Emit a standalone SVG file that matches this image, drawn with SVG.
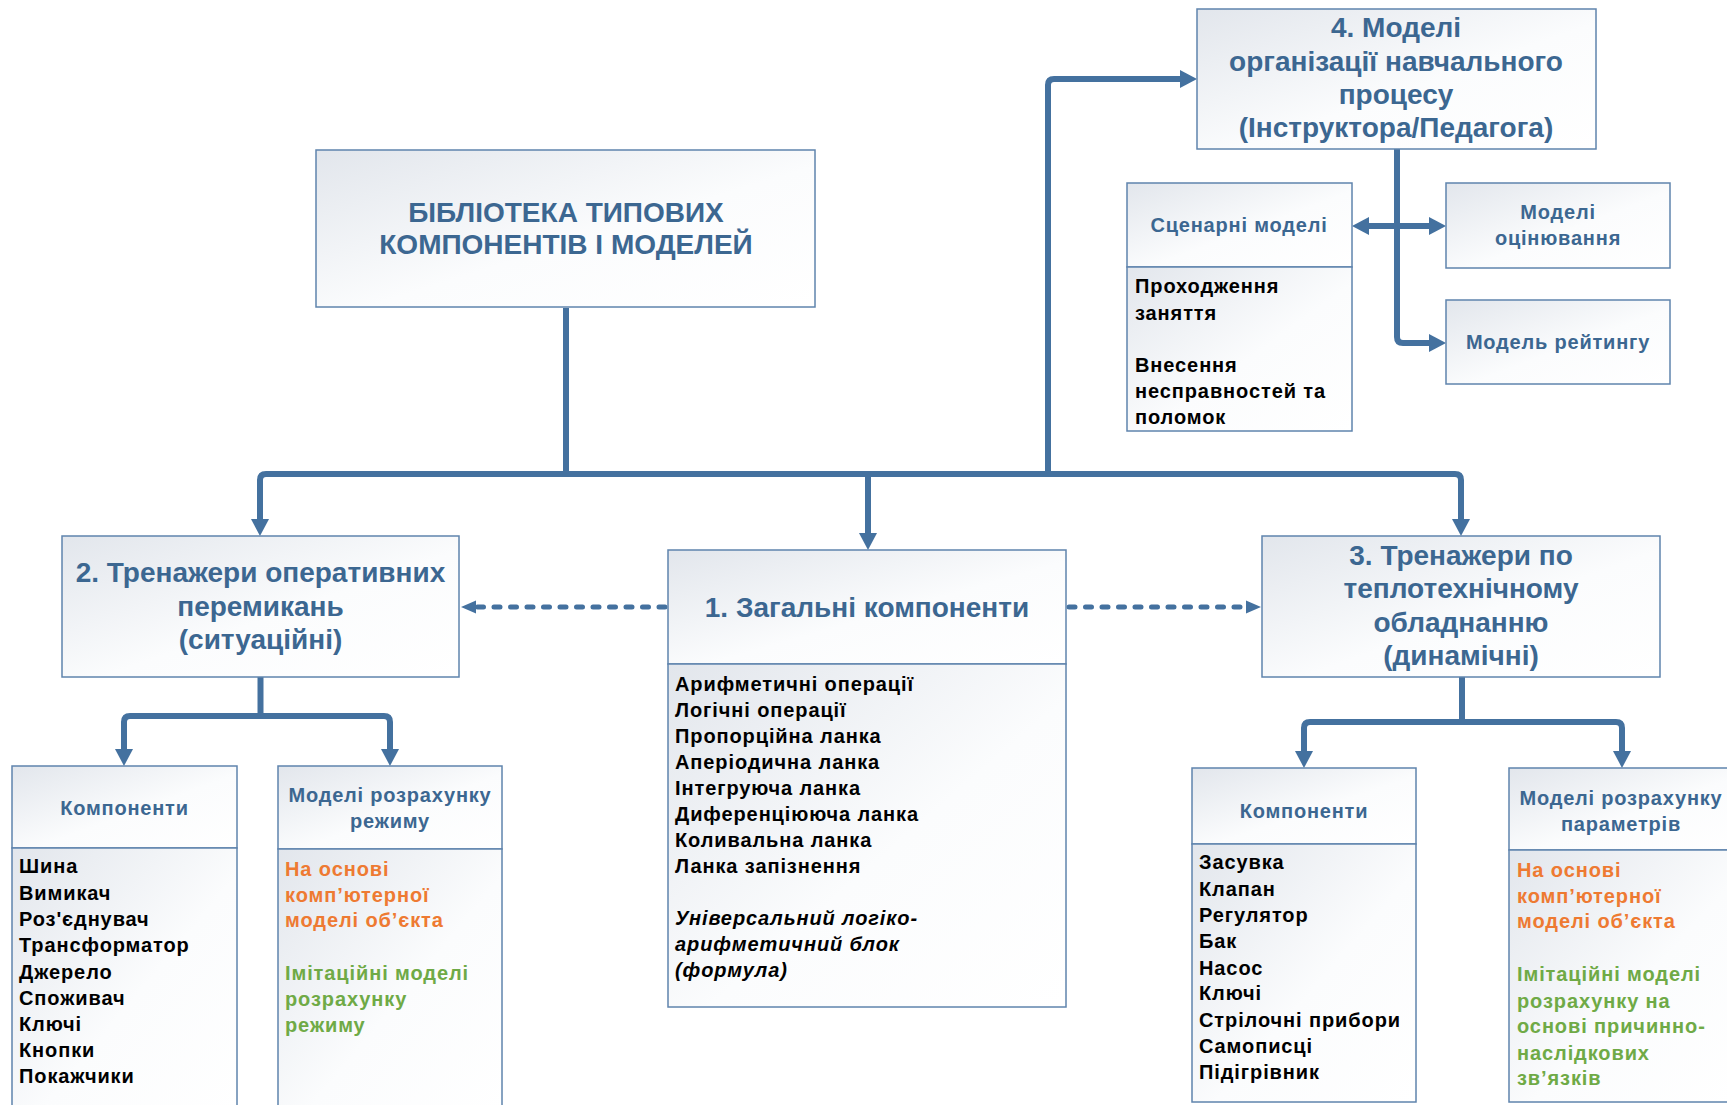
<svg xmlns="http://www.w3.org/2000/svg" width="1727" height="1105" viewBox="0 0 1727 1105">
<defs>
<linearGradient id="g" x1="0" y1="0" x2="1" y2="1">
<stop offset="0" stop-color="#e2e6ec"/>
<stop offset="0.55" stop-color="#fbfcfd"/>
<stop offset="1" stop-color="#ffffff"/>
</linearGradient>
<marker id="arr" markerUnits="userSpaceOnUse" markerWidth="18" markerHeight="18" refX="7" refY="9" orient="auto-start-reverse">
<path d="M0,0 L17,9 L0,18 z" fill="#44719f"/>
</marker>
<marker id="darr" markerUnits="userSpaceOnUse" markerWidth="15" markerHeight="14" refX="0" refY="7" orient="auto">
<path d="M0,0.5 L15,7 L0,13.5 z" fill="#44719f"/>
</marker>
<style>
.box{fill:url(#g);stroke:#5f84ad;stroke-width:1.5}
.t{font-family:"Liberation Sans",Arial,sans-serif;font-weight:bold;font-size:28px;fill:#3c6791;text-anchor:middle}
.h{font-family:"Liberation Sans",Arial,sans-serif;font-weight:bold;font-size:20px;letter-spacing:0.8px;fill:#3c6791;text-anchor:middle}
.l{font-family:"Liberation Sans",Arial,sans-serif;font-weight:bold;font-size:20px;letter-spacing:0.9px;fill:#000}
.o{fill:#ee7a32}
.gr{fill:#6faa46}
.i{font-style:italic}
.c{fill:none;stroke:#44719f;stroke-width:6;stroke-linejoin:round}
.d{fill:none;stroke:#44719f;stroke-width:5;stroke-linecap:round;stroke-dasharray:6 10.5}
</style>
</defs>
<rect width="1727" height="1105" fill="#ffffff"/>

<g id="connectors">
<path class="c" d="M566,308 V477"/>
<path class="c" d="M566,474 H266 Q260,474 260,480 V526" marker-end="url(#arr)"/>
<path class="c" d="M566,474 H1455 Q1461,474 1461,480 V526" marker-end="url(#arr)"/>
<path class="c" d="M868,474 V540" marker-end="url(#arr)"/>
<path class="c" d="M1048,474 V85 Q1048,79 1054,79 H1187" marker-end="url(#arr)"/>
<path class="c" d="M1397,148 V337 Q1397,343 1403,343 H1436" marker-end="url(#arr)"/>
<path class="c" d="M1362,226 H1436" marker-start="url(#arr)" marker-end="url(#arr)"/>
<path class="c" d="M260.5,677 V719"/>
<path class="c" d="M260.5,716 H130 Q124,716 124,722 V756" marker-end="url(#arr)"/>
<path class="c" d="M260.5,716 H384 Q390,716 390,722 V756" marker-end="url(#arr)"/>
<path class="c" d="M1462,677 V725"/>
<path class="c" d="M1462,722 H1310 Q1304,722 1304,728 V758" marker-end="url(#arr)"/>
<path class="c" d="M1462,722 H1616 Q1622,722 1622,728 V758" marker-end="url(#arr)"/>
<path class="d" d="M665,607 H476" marker-end="url(#darr)"/>
<path class="d" d="M1069,607 H1246" marker-end="url(#darr)"/>
</g>

<g id="library">
<rect class="box" x="316" y="150" width="499" height="157"/>
<text class="t" x="566" y="222">БІБЛІОТЕКА ТИПОВИХ</text>
<text class="t" x="566" y="254">КОМПОНЕНТІВ І МОДЕЛЕЙ</text>
</g>

<g id="node4">
<rect class="box" x="1197" y="9" width="399" height="140"/>
<text class="t" x="1396" y="37">4. Моделі</text>
<text class="t" x="1396" y="71">організації навчального</text>
<text class="t" x="1396" y="104">процесу</text>
<text class="t" x="1396" y="137">(Інструктора/Педагога)</text>
</g>

<g id="scenario">
<rect class="box" x="1127" y="183" width="225" height="84"/>
<rect class="box" x="1127" y="267" width="225" height="164"/>
<text class="h" x="1239" y="232">Сценарні моделі</text>
<text class="l" x="1135" y="293">Проходження</text>
<text class="l" x="1135" y="320">заняття</text>
<text class="l" x="1135" y="372">Внесення</text>
<text class="l" x="1135" y="398">несправностей та</text>
<text class="l" x="1135" y="424">поломок</text>
</g>

<g id="evaluation">
<rect class="box" x="1446" y="183" width="224" height="85"/>
<text class="h" x="1558" y="219">Моделі</text>
<text class="h" x="1558" y="245">оцінювання</text>
</g>

<g id="rating">
<rect class="box" x="1446" y="300" width="224" height="84"/>
<text class="h" x="1558" y="349">Модель рейтингу</text>
</g>

<g id="node2">
<rect class="box" x="62" y="536" width="397" height="141"/>
<text class="t" x="260.5" y="582">2. Тренажери оперативних</text>
<text class="t" x="260.5" y="616">перемикань</text>
<text class="t" x="260.5" y="649">(ситуаційні)</text>
</g>

<g id="node1">
<rect class="box" x="668" y="550" width="398" height="114"/>
<rect class="box" x="668" y="664" width="398" height="343"/>
<text class="t" x="867" y="617">1. Загальні компоненти</text>
<text class="l" x="675" y="691">Арифметичні операції</text>
<text class="l" x="675" y="717">Логічні операції</text>
<text class="l" x="675" y="743">Пропорційна ланка</text>
<text class="l" x="675" y="769">Аперіодична ланка</text>
<text class="l" x="675" y="795">Інтегруюча ланка</text>
<text class="l" x="675" y="821">Диференціююча ланка</text>
<text class="l" x="675" y="847">Коливальна ланка</text>
<text class="l" x="675" y="873">Ланка запізнення</text>
<text class="l i" x="675" y="925">Універсальний логіко-</text>
<text class="l i" x="675" y="951">арифметичний блок</text>
<text class="l i" x="675" y="977">(формула)</text>
</g>

<g id="node3">
<rect class="box" x="1262" y="536" width="398" height="141"/>
<text class="t" x="1461" y="565">3. Тренажери по</text>
<text class="t" x="1461" y="598">теплотехнічному</text>
<text class="t" x="1461" y="632">обладнанню</text>
<text class="t" x="1461" y="665">(динамічні)</text>
</g>

<g id="components2">
<rect class="box" x="12" y="766" width="225" height="82"/>
<rect class="box" x="12" y="848" width="225" height="270"/>
<text class="h" x="124.5" y="815">Компоненти</text>
<text class="l" x="19" y="873">Шина</text>
<text class="l" x="19" y="900">Вимикач</text>
<text class="l" x="19" y="926">Роз'єднувач</text>
<text class="l" x="19" y="952">Трансформатор</text>
<text class="l" x="19" y="979">Джерело</text>
<text class="l" x="19" y="1005">Споживач</text>
<text class="l" x="19" y="1031">Ключі</text>
<text class="l" x="19" y="1057">Кнопки</text>
<text class="l" x="19" y="1083">Покажчики</text>
</g>

<g id="models2">
<rect class="box" x="278" y="766" width="224" height="83"/>
<rect class="box" x="278" y="849" width="224" height="270"/>
<text class="h" x="390" y="802">Моделі розрахунку</text>
<text class="h" x="390" y="828">режиму</text>
<text class="l o" x="285" y="876">На основі</text>
<text class="l o" x="285" y="902">комп’ютерної</text>
<text class="l o" x="285" y="927">моделі об’єкта</text>
<text class="l gr" x="285" y="980">Імітаційні моделі</text>
<text class="l gr" x="285" y="1006">розрахунку</text>
<text class="l gr" x="285" y="1032">режиму</text>
</g>

<g id="components3">
<rect class="box" x="1192" y="768" width="224" height="76"/>
<rect class="box" x="1192" y="844" width="224" height="258"/>
<text class="h" x="1304" y="818">Компоненти</text>
<text class="l" x="1199" y="869">Засувка</text>
<text class="l" x="1199" y="896">Клапан</text>
<text class="l" x="1199" y="922">Регулятор</text>
<text class="l" x="1199" y="948">Бак</text>
<text class="l" x="1199" y="975">Насос</text>
<text class="l" x="1199" y="1000">Ключі</text>
<text class="l" x="1199" y="1027">Стрілочні прибори</text>
<text class="l" x="1199" y="1053">Самописці</text>
<text class="l" x="1199" y="1079">Підігрівник</text>
</g>

<g id="models3">
<rect class="box" x="1509" y="768" width="230" height="82"/>
<rect class="box" x="1509" y="850" width="230" height="252"/>
<text class="h" x="1621" y="805">Моделі розрахунку</text>
<text class="h" x="1621" y="831">параметрів</text>
<text class="l o" x="1517" y="877">На основі</text>
<text class="l o" x="1517" y="903">комп’ютерної</text>
<text class="l o" x="1517" y="928">моделі об’єкта</text>
<text class="l gr" x="1517" y="981">Імітаційні моделі</text>
<text class="l gr" x="1517" y="1008">розрахунку на</text>
<text class="l gr" x="1517" y="1033">основі причинно-</text>
<text class="l gr" x="1517" y="1060">наслідкових</text>
<text class="l gr" x="1517" y="1085">зв’язків</text>
</g>
</svg>
